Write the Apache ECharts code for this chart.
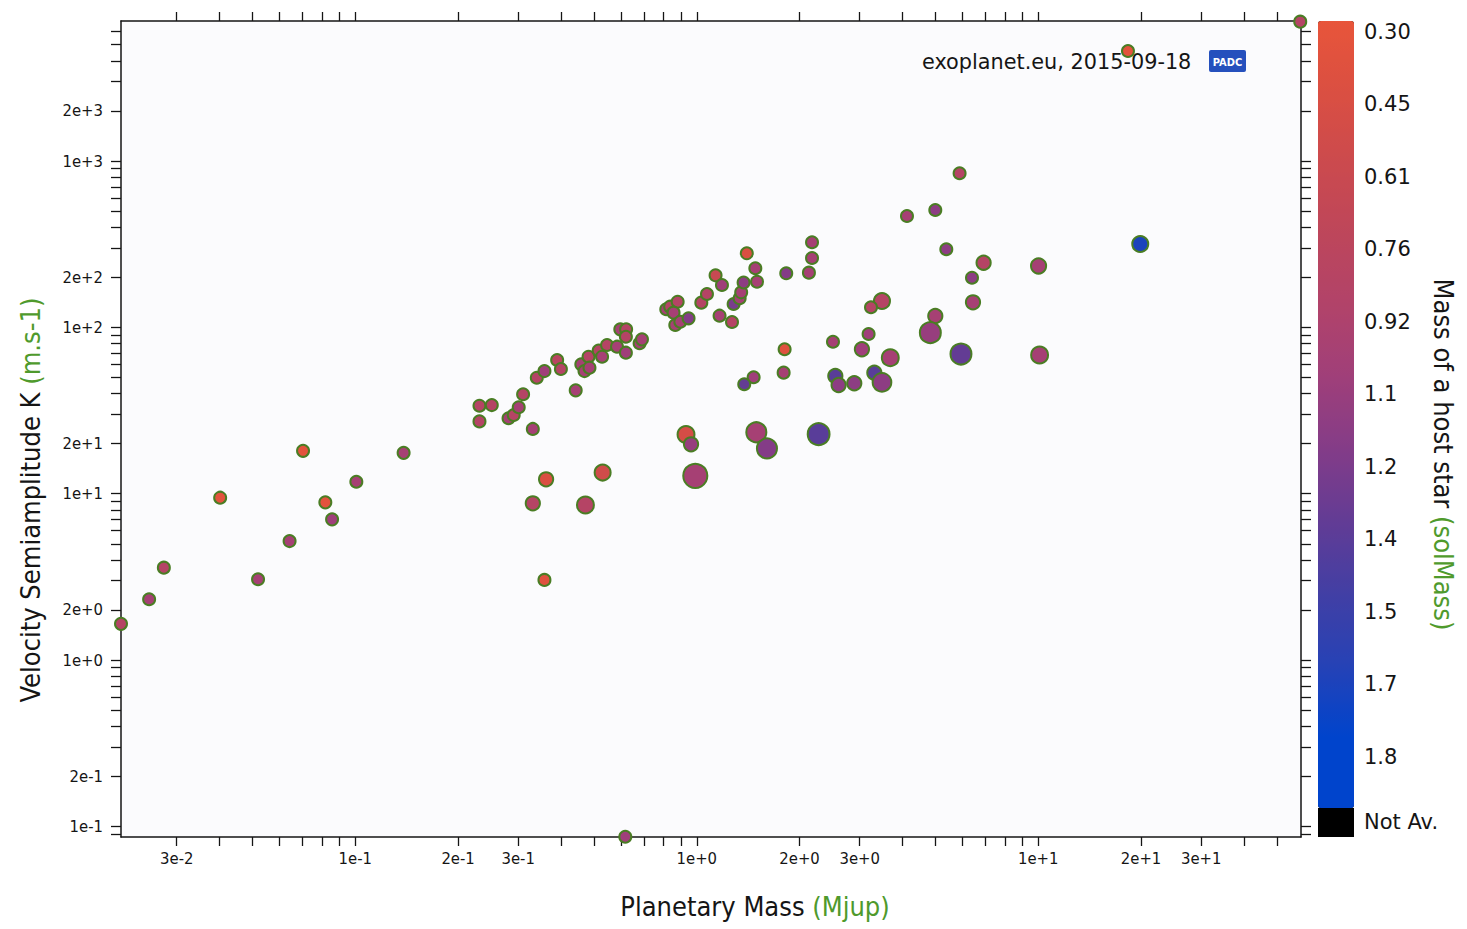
<!DOCTYPE html>
<html>
<head>
<meta charset="utf-8">
<title>Velocity semiamplitude vs planetary mass</title>
<script src="https://cdn.jsdelivr.net/npm/echarts@6.0.0/dist/echarts.min.js"></script>
<style>
  html, body { margin: 0; padding: 0; background: #ffffff; }
  #chart { width: 1467px; height: 929px; }
</style>
</head>
<body>
<div id="chart"></div>
<script>
// one entry per planet, same order in every array
// planetary mass (Mjup)
const massJup = [
  0.0206, 0.0249, 0.0275, 0.0402, 0.0519, 0.0642, 0.0703, 0.0817, 0.0855, 0.1007, 0.1385,
  0.231, 0.251, 0.231, 0.281, 0.291, 0.301, 0.310, 0.331, 0.340, 0.358, 0.390, 0.400,
  0.442, 0.459, 0.482, 0.469, 0.485, 0.516, 0.528, 0.546, 0.584, 0.597, 0.621, 0.620,
  0.620, 0.680, 0.691, 0.814, 0.836, 0.879, 0.855, 0.865, 0.895, 0.946, 1.031, 1.071,
  1.135, 1.185, 1.166, 1.268, 1.282, 1.335, 1.349, 1.371, 1.401, 1.484, 1.501, 1.828,
  2.13, 2.175, 2.175, 1.808, 1.796, 1.467, 1.377, 0.930, 0.962, 0.990, 1.494, 1.605,
  2.274, 0.362, 0.331, 0.530, 0.472, 0.358, 5.883, 4.994, 4.126, 5.379, 6.917, 6.396,
  10.02, 6.439, 3.486, 3.237, 4.994, 4.83, 3.185, 2.505, 3.045, 3.687, 5.938, 10.09,
  2.545, 2.602, 2.892, 3.311, 3.486, 18.31, 19.89, 58.5, 0.6175
];
// velocity semiamplitude K (m/s)
const velocityK = [
  1.65, 2.32, 3.59, 9.46, 3.06, 5.19, 18.1, 8.87, 7.01, 11.8, 17.6,
  33.8, 34.1, 27.2, 28.4, 29.7, 33.1, 39.6, 24.5, 49.8, 54.6, 63.6, 56.2,
  41.8, 59.9, 66.6, 54.6, 57.2, 72.4, 66.6, 78.3, 76.5, 97.3, 97.3, 87.8,
  70.4, 80.2, 84.7, 128.4, 133.1, 142.6, 122.5, 103.3, 108.1, 113.3, 140.7, 158.7,
  205.5, 179.7, 117.5, 107.7, 138.1, 149.5, 162.4, 186.1, 278.7, 226.5, 188.1, 211.3,
  213.1, 261.1, 324.6, 73.8, 53.4, 50.1, 45.5, 22.7, 19.8, 12.8, 23.4, 18.7,
  22.8, 12.2, 8.75, 13.4, 8.55, 3.03, 843.6, 507.7, 467, 294.6, 244.7, 198.8,
  233.8, 141.4, 144, 132, 117, 92.9, 91.2, 81.9, 73.8, 65.7, 69.1, 68.2,
  51.0, 45.0, 46.1, 53.4, 46.7, 4585, 317, 6880, 0.0866
];
// mass of the host star (solMass)
const hostStarMass = [
  0.85, 1.0, 0.85, 0.35, 1.0, 1.0, 0.35, 0.35, 1.05, 1.0, 1.0,
  0.85, 0.85, 0.85, 1.0, 0.85, 1.0, 0.85, 1.0, 0.85, 1.05, 0.8, 0.85,
  1.0, 1.0, 0.85, 1.0, 1.0, 0.85, 1.0, 0.85, 1.0, 1.0, 0.85, 0.85,
  1.05, 1.0, 1.0, 1.0, 0.85, 0.85, 1.0, 1.0, 1.0, 1.2, 0.85, 0.85,
  0.65, 1.05, 1.0, 0.85, 1.25, 1.0, 1.0, 1.15, 0.45, 1.0, 1.0, 1.2,
  1.0, 1.0, 1.0, 0.4, 1.0, 1.05, 1.35, 0.5, 1.1, 1.0, 1.0, 1.2,
  1.4, 0.45, 0.85, 0.55, 0.85, 0.4, 0.85, 1.15, 1.0, 1.15, 0.85, 1.15,
  1.0, 1.0, 0.85, 0.85, 1.0, 1.1, 1.05, 1.0, 1.05, 1.0, 1.35, 1.0,
  1.4, 1.15, 1.15, 1.4, 1.15, 0.35, 1.7, 0.85, 1.05
];
// planet radius (Rjup), null when not measured
const planetRadius = [
  null, null, null, null, null, null, null, null, null, null, null,
  null, null, null, null, null, null, null, null, null, null, null, null,
  null, null, null, null, null, null, null, null, null, null, null, null,
  null, null, null, null, null, null, null, null, null, null, null, null,
  null, null, null, null, null, null, null, null, null, null, null, null,
  null, null, null, null, null, null, null, 1.1, 0.8, 1.9, 1.45, 1.45,
  1.65, 0.8, 0.8, 1.0, 1.1, null, null, null, null, null, 0.8, null,
  0.9, 0.8, 1.0, null, 0.8, 1.55, null, null, 0.8, 1.1, 1.55, 1.1,
  0.8, 0.8, 0.8, 0.8, 1.3, null, 1.0, null, null
];

const xMin = 0.0206;
const xMax = 58.8;
const yMin = 0.0863;
const yMax = 6945;

const xTickValues = [
  0.03, 0.04, 0.05, 0.06, 0.07, 0.08, 0.09,
  0.1, 0.2, 0.3, 0.4, 0.5, 0.6, 0.7, 0.8, 0.9,
  1, 2, 3, 4, 5, 6, 7, 8, 9,
  10, 20, 30, 40, 50
];
const xLabelValues = [0.03, 0.1, 0.2, 0.3, 1, 2, 3, 10, 20, 30];
const xLabels = ['3e-2', '1e-1', '2e-1', '3e-1', '1e+0', '2e+0', '3e+0', '1e+1', '2e+1', '3e+1'];

const yTickValues = [
  0.09,
  0.1, 0.2, 0.3, 0.4, 0.5, 0.6, 0.7, 0.8, 0.9,
  1, 2, 3, 4, 5, 6, 7, 8, 9,
  10, 20, 30, 40, 50, 60, 70, 80, 90,
  100, 200, 300, 400, 500, 600, 700, 800, 900,
  1000, 2000, 3000, 4000, 5000, 6000
];
const yLabelValues = [0.1, 0.2, 1, 2, 10, 20, 100, 200, 1000, 2000];
const yLabels = ['1e-1', '2e-1', '1e+0', '2e+0', '1e+1', '2e+1', '1e+2', '2e+2', '1e+3', '2e+3'];

// colour scale of the host star mass
const colorbarLabels = ['0.30', '0.45', '0.61', '0.76', '0.92', '1.1', '1.2', '1.4', '1.5', '1.7', '1.8'];
const colorbarMin = 0.30;
const colorbarStep = 0.153;
const colorbarSteps = 10.85;
const colorbarMax = colorbarMin + colorbarStep * colorbarSteps;
const colorbarColors = [
  '#e8553a', '#da4f42', '#cb4a4e', '#bd465b', '#b1436a', '#9f3f7a',
  '#833c88', '#623c95', '#423fa4', '#2642b6', '#0044cc', '#0044cc'
];
const notAvailableLabel = 'Not Av.';
const sourceNote = 'exoplanet.eu, 2015-09-18';
const logoText = 'PADC';

const FONT = "'DejaVu Sans Condensed', 'DejaVu Sans', sans-serif";
const FONT_WIDE = "'DejaVu Sans', Verdana, sans-serif";
const GREEN = '#4f9a2c';
const INK = '#151515';

const points = massJup.map((m, i) => [m, velocityK[i], hostStarMass[i], planetRadius[i]]);

const labelFor = (values, labels) => (value) => {
  const i = values.findIndex((v) => Math.abs(v - value) < v * 1e-6);
  return i >= 0 ? labels[i] : '';
};

const titleRich = {
  a: { fontFamily: FONT, fontSize: 27, color: INK },
  b: { fontFamily: FONT, fontSize: 27, color: GREEN }
};

const logAxis = (extra) => Object.assign({
  type: 'log',
  logBase: 10,
  gridIndex: 0,
  axisLine: { show: true, onZero: false, lineStyle: { color: INK, width: 1.5 } },
  splitLine: { show: false },
  minorTick: { show: false }
}, extra);

const tickLabelStyle = {
  color: INK,
  fontFamily: FONT,
  fontSize: 16.5
};

const chart = echarts.init(document.getElementById('chart'), null, { renderer: 'svg' });

chart.setOption({
  backgroundColor: '#ffffff',
  animation: false,
  grid: [
    {
      left: 121, top: 21, right: 166, bottom: 92,
      show: true, backgroundColor: '#fbfbfd', borderWidth: 0
    },
    { left: 1318, top: 21, width: 36, height: 787, show: false }
  ],
  xAxis: [
    logAxis({
      position: 'bottom',
      min: xMin,
      max: xMax,
      axisTick: { show: true, length: 9, lineStyle: { color: INK, width: 1.3 }, customValues: xTickValues },
      axisLabel: Object.assign({
        customValues: xLabelValues,
        formatter: labelFor(xLabelValues, xLabels),
        margin: 13
      }, tickLabelStyle),
      name: '{a|Planetary Mass }{b|(Mjup)}',
      nameLocation: 'middle',
      nameGap: 56,
      nameTextStyle: { padding: [0, 0, 0, 88], rich: titleRich }
    }),
    logAxis({
      position: 'top',
      min: xMin,
      max: xMax,
      axisTick: { show: true, length: 9, lineStyle: { color: INK, width: 1.3 }, customValues: xTickValues },
      axisLabel: { show: false }
    }),
    { gridIndex: 1, type: 'value', show: false }
  ],
  yAxis: [
    logAxis({
      position: 'left',
      min: yMin,
      max: yMax,
      axisTick: { show: true, length: 10, lineStyle: { color: INK, width: 1.3 }, customValues: yTickValues },
      axisLabel: Object.assign({
        customValues: yLabelValues,
        formatter: labelFor(yLabelValues, yLabels),
        margin: 18
      }, tickLabelStyle),
      name: '{a|Velocity Semiamplitude K }{b|(m.s-1)}',
      nameLocation: 'middle',
      nameRotate: 90,
      nameGap: 77,
      nameTextStyle: { padding: [0, 142, 0, 0], rich: titleRich }
    }),
    logAxis({
      position: 'right',
      min: yMin,
      max: yMax,
      axisTick: { show: true, length: 10, lineStyle: { color: INK, width: 1.3 }, customValues: yTickValues },
      axisLabel: { show: false }
    }),
    {
      gridIndex: 1,
      type: 'value',
      position: 'right',
      inverse: true,
      min: 0,
      max: colorbarSteps,
      interval: 1,
      axisLine: { show: false },
      axisTick: { show: false },
      splitLine: { show: false },
      axisLabel: {
        formatter: (v) => colorbarLabels[Math.round(v)] || '',
        verticalAlign: 'top',
        margin: 10,
        color: INK,
        fontFamily: FONT_WIDE,
        fontSize: 21
      },
      name: '{a|Mass of a host star }{b|(solMass)}',
      nameLocation: 'middle',
      nameRotate: -90,
      nameGap: 76,
      nameTextStyle: { padding: [0, 0, 0, 80], rich: titleRich }
    }
  ],
  visualMap: {
    type: 'continuous',
    seriesIndex: 0,
    dimension: 2,
    min: colorbarMin,
    max: colorbarMax,
    inverse: true,
    orient: 'vertical',
    calculable: false,
    hoverLink: false,
    left: 1318,
    top: 21,
    padding: 0,
    itemWidth: 36,
    itemHeight: 787,
    inRange: { color: colorbarColors },
    outOfRange: { color: '#000000' }
  },
  graphic: [
    {
      type: 'rect',
      shape: { x: 1318, y: 808, width: 36, height: 29 },
      style: { fill: '#000000' }
    },
    {
      type: 'text',
      style: { x: 1364, y: 822, text: notAvailableLabel, fill: INK, font: `21px ${FONT_WIDE}`, verticalAlign: 'middle' }
    },
    {
      type: 'text',
      style: { x: 922, y: 62, text: sourceNote, fill: INK, font: `20.8px ${FONT_WIDE}`, verticalAlign: 'middle' }
    },
    {
      type: 'rect',
      shape: { x: 1209, y: 50, width: 37, height: 22, r: 2 },
      style: { fill: '#2550bd' }
    },
    {
      type: 'text',
      style: {
        x: 1227.5, y: 62, text: logoText, fill: '#ffffff',
        font: `bold 11px ${FONT}`, align: 'center', verticalAlign: 'middle'
      }
    }
  ],
  series: [
    {
      type: 'scatter',
      xAxisIndex: 0,
      yAxisIndex: 0,
      data: points,
      symbol: 'circle',
      symbolSize: (d) => (d[3] == null ? 12 : 7 + 9 * d[3]),
      itemStyle: { borderColor: '#4a7d24', borderWidth: 2, opacity: 1 },
      emphasis: { disabled: true }
    }
  ]
});
</script>
</body>
</html>
